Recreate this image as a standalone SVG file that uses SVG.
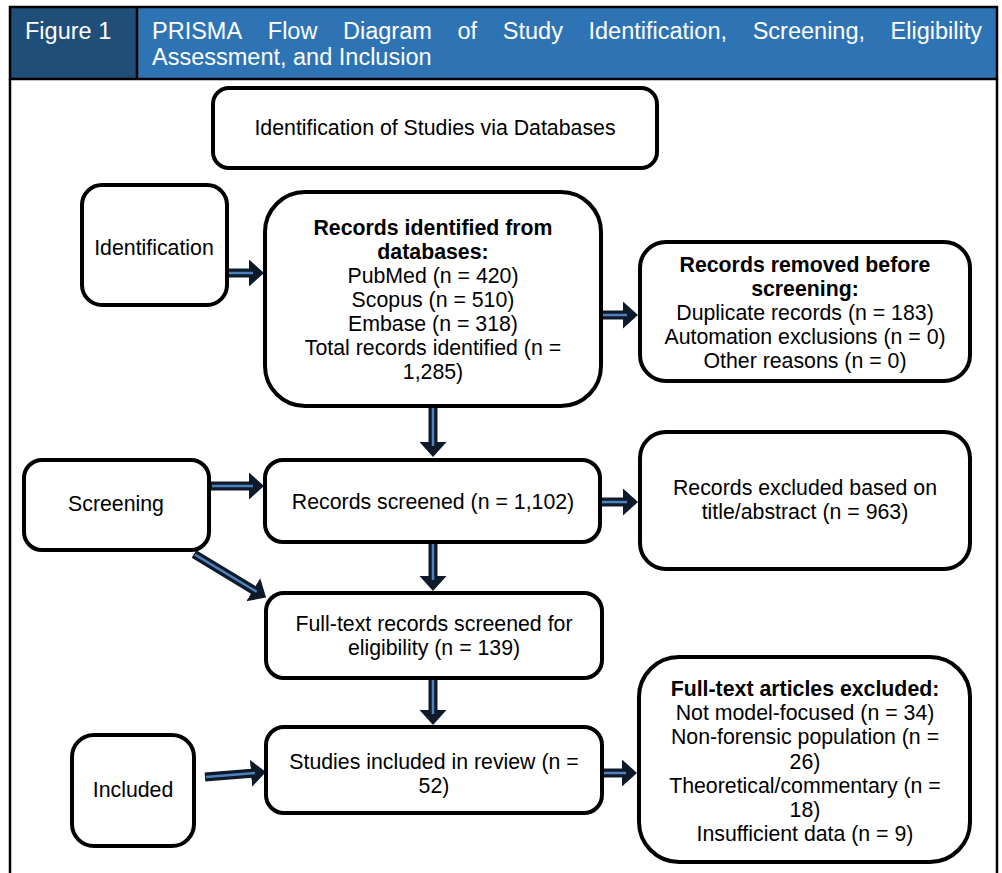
<svg xmlns="http://www.w3.org/2000/svg" width="1002" height="873" viewBox="0 0 1002 873">
<style>
.box{fill:#fff;stroke:#000;stroke-width:4}
.t{font-family:"Liberation Sans",Arial,sans-serif;font-size:21.3px;fill:#000;text-anchor:middle}
.b{font-weight:bold}
.h{font-family:"Liberation Sans",Arial,sans-serif;font-size:23.5px;fill:#fff}
.sh{stroke:#0e1a2a;stroke-width:9;fill:none}
.ln{stroke:#4f81bd;stroke-width:2.5;fill:none}
</style>
<defs>
<marker id="head" markerUnits="userSpaceOnUse" markerWidth="16" markerHeight="28" refX="1" refY="13.5" orient="auto">
<path d="M0,0 L15,13.5 L0,27 Z" fill="#0e1a2a"/>
</marker>
</defs>
<rect x="0" y="0" width="1002" height="873" fill="#fff"/>
<g id="header">
<rect x="10" y="7" width="127" height="72" fill="#1f4e79"/>
<rect x="137" y="7" width="860" height="72" fill="#2e74b5"/>
<rect x="10" y="7" width="987" height="72" fill="none" stroke="#000" stroke-width="2.5"/>
<line x1="137" y1="7" x2="137" y2="79" stroke="#000" stroke-width="2.5"/>
<text class="h" x="25" y="39">Figure 1</text>
<text class="h" y="39"><tspan x="152">PRISMA</tspan><tspan x="267.8">Flow</tspan><tspan x="343">Diagram</tspan><tspan x="457.5">of</tspan><tspan x="502.8">Study</tspan><tspan x="588.5">Identification,</tspan><tspan x="752.7">Screening,</tspan><tspan x="890.6">Eligibility</tspan></text>
<text class="h" x="152" y="65">Assessment, and Inclusion</text>
</g>
<g id="frame" stroke="#000" stroke-width="2.5">
<line x1="10" y1="79" x2="10" y2="873"/>
<line x1="997" y1="79" x2="997" y2="873"/>
</g>
<g id="connectors">
<g><line class="sh" x1="228" y1="273" x2="250" y2="273" marker-end="url(#head)"/><line class="ln" x1="229" y1="273" x2="253" y2="273"/></g>
<g><line class="sh" x1="602" y1="315" x2="624" y2="315" marker-end="url(#head)"/><line class="ln" x1="603" y1="315" x2="627" y2="315"/></g>
<g><line class="sh" x1="433" y1="406" x2="433" y2="443" marker-end="url(#head)"/><line class="ln" x1="433" y1="407" x2="433" y2="446"/></g>
<g><line class="sh" x1="211" y1="486" x2="250" y2="486" marker-end="url(#head)"/><line class="ln" x1="212" y1="486" x2="253" y2="486"/></g>
<g><line class="sh" x1="601" y1="502" x2="624" y2="502" marker-end="url(#head)"/><line class="ln" x1="602" y1="502" x2="627" y2="502"/></g>
<g><line class="sh" x1="194" y1="554" x2="254.1" y2="590.3" marker-end="url(#head)"/><line class="ln" x1="195" y1="554.6" x2="256.7" y2="591.8"/></g>
<g><line class="sh" x1="433" y1="543" x2="433" y2="577" marker-end="url(#head)"/><line class="ln" x1="433" y1="544" x2="433" y2="580"/></g>
<g><line class="sh" x1="433" y1="679" x2="433" y2="711" marker-end="url(#head)"/><line class="ln" x1="433" y1="680" x2="433" y2="714"/></g>
<g><line class="sh" x1="205" y1="777" x2="252" y2="773.2" marker-end="url(#head)"/><line class="ln" x1="206" y1="776.9" x2="255" y2="772.9"/></g>
<g><line class="sh" x1="602" y1="773" x2="623" y2="773" marker-end="url(#head)"/><line class="ln" x1="603" y1="773" x2="626" y2="773"/></g>
</g>
<g id="n-ident-db">
<rect class="box" x="213" y="88" width="444" height="80" rx="16"/>
<text class="t" x="435" y="135">Identification of Studies via Databases</text>
</g>
<g id="n-identification">
<rect class="box" x="82" y="185" width="145" height="120" rx="20"/>
<text class="t" x="154" y="255">Identification</text>
</g>
<g id="n-records-identified">
<rect class="box" x="265" y="192" width="336" height="214" rx="40"/>
<text class="t" x="433" y="235"><tspan class="b" x="433">Records identified from</tspan><tspan class="b" x="433" dy="24">databases:</tspan><tspan x="433" dy="24">PubMed (n = 420)</tspan><tspan x="433" dy="24">Scopus (n = 510)</tspan><tspan x="433" dy="24">Embase (n = 318)</tspan><tspan x="433" dy="24">Total records identified (n =</tspan><tspan x="433" dy="24">1,285)</tspan></text>
</g>
<g id="n-removed">
<rect class="box" x="640" y="242" width="330" height="139" rx="26"/>
<text class="t" x="805" y="272"><tspan class="b" x="805">Records removed before</tspan><tspan class="b" x="805" dy="24">screening:</tspan><tspan x="805" dy="24">Duplicate records (n = 183)</tspan><tspan x="805" dy="24">Automation exclusions (n = 0)</tspan><tspan x="805" dy="24">Other reasons (n = 0)</tspan></text>
</g>
<g id="n-screening">
<rect class="box" x="24" y="460" width="185" height="90" rx="18"/>
<text class="t" x="116" y="511">Screening</text>
</g>
<g id="n-screened">
<rect class="box" x="265" y="460" width="335" height="82" rx="18"/>
<text class="t" x="433" y="509">Records screened (n = 1,102)</text>
</g>
<g id="n-excluded-title">
<rect class="box" x="640" y="432" width="330" height="137" rx="26"/>
<text class="t" x="805" y="495"><tspan x="805">Records excluded based on</tspan><tspan x="805" dy="24">title/abstract (n = 963)</tspan></text>
</g>
<g id="n-fulltext">
<rect class="box" x="266" y="593" width="336" height="85" rx="18"/>
<text class="t" x="434" y="631"><tspan x="434">Full-text records screened for</tspan><tspan x="434" dy="24">eligibility (n = 139)</tspan></text>
</g>
<g id="n-included">
<rect class="box" x="72" y="735" width="122" height="111" rx="22"/>
<text class="t" x="133" y="797">Included</text>
</g>
<g id="n-studies">
<rect class="box" x="266" y="727" width="336" height="86" rx="18"/>
<text class="t" x="434" y="769"><tspan x="434">Studies included in review (n =</tspan><tspan x="434" dy="24">52)</tspan></text>
</g>
<g id="n-fulltext-excluded">
<rect class="box" x="639" y="657" width="331" height="205" rx="40"/>
<text class="t" x="805" y="696"><tspan class="b" x="805">Full-text articles excluded:</tspan><tspan x="805" dy="24.2">Not model-focused (n = 34)</tspan><tspan x="805" dy="24.2">Non-forensic population (n =</tspan><tspan x="805" dy="24.2">26)</tspan><tspan x="805" dy="24.2">Theoretical/commentary (n =</tspan><tspan x="805" dy="24.2">18)</tspan><tspan x="805" dy="24.2">Insufficient data (n = 9)</tspan></text>
</g>
</svg>
